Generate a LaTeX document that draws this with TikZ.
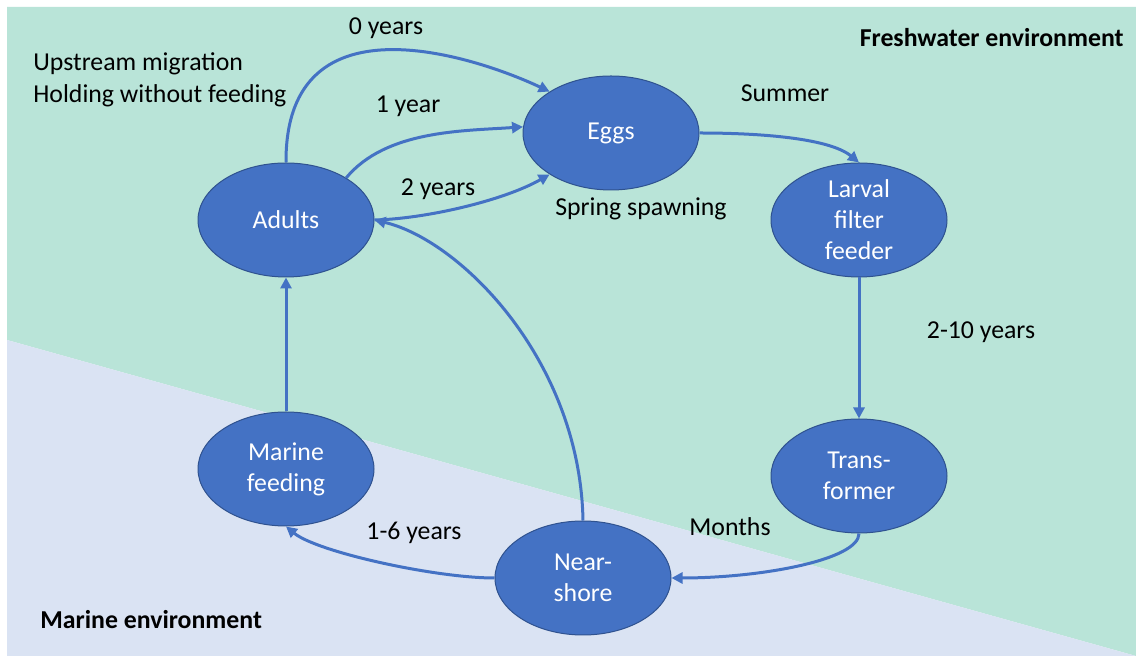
\documentclass[tikz,border=0pt]{standalone}
\usepackage{fontspec}
\setmainfont{Carlito}
\usetikzlibrary{arrows.meta,shapes.geometric}
\definecolor{fresh}{RGB}{185,228,216}
\definecolor{marinebg}{RGB}{218,227,243}
\definecolor{nodefill}{RGB}{68,114,196}
\definecolor{nodeline}{RGB}{47,82,143}
\definecolor{arrowcol}{RGB}{68,114,196}
\begin{document}
\begin{tikzpicture}[x=0.5pt,y=-0.5pt,
  stage/.style={ellipse, fill=nodefill, draw=nodeline, line width=0.5pt,
    minimum width=88pt, minimum height=57pt, inner sep=0pt, text=white,
    align=center, font=\fontsize{12.9pt}{15.5pt}\selectfont},
  lbl/.style={inner sep=0pt, font=\fontsize{12.9pt}{16pt}\selectfont},
  envlbl/.style={inner sep=0pt, font=\fontsize{12.9pt}{16pt}\selectfont\bfseries},
  flow/.style={draw=arrowcol, line width=1.5pt, -{Triangle[length=5.5pt,width=5.5pt]}}]
\useasboundingbox (0,0) rectangle (1136,656);
\fill[white] (0,0) rectangle (1136,656);
\fill[fresh] (7,7) -- (1136,7) -- (1136,656) -- (7,340) -- cycle;
\fill[marinebg] (7,340) -- (1136,656) -- (7,656) -- cycle;

% stages
\node[stage] (eggs) at (611,133) {Eggs};
\node[stage] (adults) at (286,220) {Adults};
\node[stage] (larval) at (859,220) {Larval\\filter\\feeder};
\node[stage] (trans) at (859,476) {Trans-\\former};
\node[stage] (marine) at (286,469) {Marine\\feeding};
\node[stage] (near) at (583,578) {Near-\\shore};

% connectors
\draw[flow] (adults.north) .. controls (285,-12) and (485,61) .. (eggs.146);
\draw[flow] (adults.35) .. controls (386,130) and (463,131) .. (eggs.176);
\draw[flow] (adults.east) .. controls (424,219) and (503,201) .. (eggs.214);
\draw[flow] (eggs.east) .. controls (759,133) and (829,138) .. (larval.north);
\draw[flow] (larval.south) -- (trans.north);
\draw[flow] (trans.south) .. controls (859,560) and (760,578) .. (near.east);
\draw[flow] (near.west) .. controls (435,578) and (317,552) .. (marine.south);
\draw[flow] (marine.north) -- (adults.south);
\draw[flow] (near.north) .. controls (580,360) and (460,240) .. (adults.east);

% labels
\node[lbl] (l0) at (386,28) {0 years};
\node[lbl, anchor=west, align=left] (lup) at (33,80) {Upstream migration\\Holding without feeding};
\node[lbl] (l1) at (408,106) {1 year};
\node[lbl] (l2) at (438,189) {2 years};
\node[lbl] (lspring) at (641,209) {Spring spawning};
\node[lbl] (lsummer) at (785,93) {Summer};
\node[lbl] (l210) at (981,332) {2-10 years};
\node[lbl] (lmonths) at (730,527) {Months};
\node[lbl] (l16) at (414,533) {1-6 years};
\node[envlbl, anchor=east] (fresh) at (1124,38) {Freshwater environment};
\node[envlbl, anchor=west] (menv) at (40,620) {Marine environment};
\end{tikzpicture}
\end{document}
